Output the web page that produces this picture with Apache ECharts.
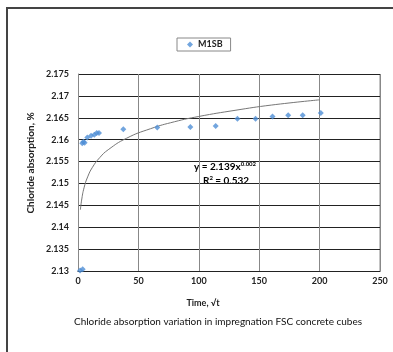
<!DOCTYPE html>
<html><head><meta charset="utf-8">
<script src="https://cdn.jsdelivr.net/npm/echarts@6/dist/echarts.min.js"></script>
<style>html,body{margin:0;padding:0;background:#fff}#c{width:393px;height:352px}</style>
</head><body><div id="c"></div>
<script>
const seriesName = 'M1SB';
const timeX = [1.7, 3.9, 3.5, 4.5, 5.5, 7.7, 10.8, 13.5, 15.5, 17.4, 37.5, 65.6, 93, 114, 132, 147, 161, 174, 186, 201];
const absorption = [2.1301, 2.1304, 2.1592, 2.1595, 2.1593, 2.1605, 2.1609, 2.1611, 2.1615, 2.1615, 2.1624, 2.1628, 2.1629, 2.1631, 2.1648, 2.1648, 2.1653, 2.1656, 2.1656, 2.1661];
const trendX = [2, 3, 5, 8, 12, 18, 25, 40, 60, 80, 100, 130, 160, 200];
const trendY = [2.1440, 2.1462, 2.1490, 2.1515, 2.1537, 2.1559, 2.1577, 2.1603, 2.1625, 2.1641, 2.1653, 2.1667, 2.1679, 2.1691];
const xTicks = [0, 50, 100, 150, 200, 250];
const yTicks = [2.13, 2.135, 2.14, 2.145, 2.15, 2.155, 2.16, 2.165, 2.17, 2.175];
const chartTitle = 'Chloride absorption variation in impregnation FSC concrete cubes';
const xTitle = 'Time, √t';
const yTitle = 'Chloride absorption, %';

const F = 'Lato, "Open Sans", sans-serif';
const chart = echarts.init(document.getElementById('c'), null, {renderer: 'canvas'});
chart.setOption({
  animation: false,
  backgroundColor: '#fff',
  grid: {left: 78, right: 13, top: 74, bottom: 81},
  legend: {
    data: [{name: seriesName, icon: 'diamond'}],
    left: 177, top: 38,
    borderColor: '#888', borderWidth: 1,
    padding: [2, 8, 2, 10],
    itemWidth: 6, itemHeight: 6, itemGap: 4,
    textStyle: {fontFamily: F, fontSize: 9, fontWeight: 'bold', color: '#222'}
  },
  xAxis: {
    type: 'value', min: xTicks[0], max: xTicks[xTicks.length - 1], interval: 50,
    axisLine: {show: true, lineStyle: {color: '#222', width: 1.2}},
    axisTick: {show: false},
    axisLabel: {margin: 6, fontFamily: F, fontSize: 9, fontWeight: 'bold', color: '#222'},
    splitLine: {show: true, lineStyle: {color: '#888', width: 1}}
  },
  yAxis: {
    type: 'value', min: yTicks[0], max: yTicks[yTicks.length - 1], interval: 0.005,
    axisLine: {show: true, lineStyle: {color: '#888', width: 1}},
    axisTick: {show: false},
    axisLabel: {margin: 9, fontFamily: F, fontSize: 9, fontWeight: 'bold', color: '#222',
      formatter: v => String(parseFloat(v.toFixed(3)))},
    splitLine: {show: true, lineStyle: {color: '#222', width: 1.2}}
  },
  series: [
    {
      name: seriesName, type: 'scatter', symbol: 'diamond', symbolSize: 6, clip: false,
      itemStyle: {color: '#4f8fd6'},
      data: timeX.map((x, i) => [x, absorption[i]]), z: 3
    },
    {
      name: 'trend', type: 'line', smooth: true, showSymbol: false, symbol: 'none',
      lineStyle: {color: '#777', width: 1},
      data: trendX.map((x, i) => [x, trendY[i]]), z: 2
    }
  ],
  graphic: [
    {type: 'line', shape: {x1: 6, y1: 8, x2: 393, y2: 8}, style: {stroke: '#444', lineWidth: 2}},
    {type: 'line', shape: {x1: 7, y1: 8, x2: 7, y2: 352}, style: {stroke: '#444', lineWidth: 2}},
    {type: 'line', shape: {x1: 380, y1: 74, x2: 380, y2: 271}, style: {stroke: '#888', lineWidth: 1}},
    {type: 'text', x: 218, y: 322, style: {text: chartTitle, font: '10px ' + F, fill: '#111', textAlign: 'center', textVerticalAlign: 'middle'}},
    {type: 'text', x: 203, y: 303, style: {text: xTitle, font: 'bold 9px ' + F, fill: '#222', textAlign: 'center', textVerticalAlign: 'middle'}},
    {type: 'text', x: 31, y: 163, rotation: Math.PI / 2, style: {text: yTitle, font: 'bold 10px ' + F, fill: '#222', textAlign: 'center', textVerticalAlign: 'middle'}},
    {type: 'text', x: 194, y: 167, style: {
      text: '{a|y = 2.139x}{s|0.002}', textVerticalAlign: 'middle',
      rich: {a: {fontFamily: F, fontSize: 10, fontWeight: 'bold', color: '#111'},
             s: {fontFamily: F, fontSize: 6, fontWeight: 'bold', color: '#111', padding: [0, 0, 6, 0]}}
    }},
    {type: 'text', x: 203, y: 181, style: {
      text: '{a|R}{s|2}{a| = 0.532}', textVerticalAlign: 'middle',
      rich: {a: {fontFamily: F, fontSize: 10, fontWeight: 'bold', color: '#111'},
             s: {fontFamily: F, fontSize: 6, fontWeight: 'bold', color: '#111', padding: [0, 0, 6, 0]}}
    }}
  ]
});
</script></body></html>
